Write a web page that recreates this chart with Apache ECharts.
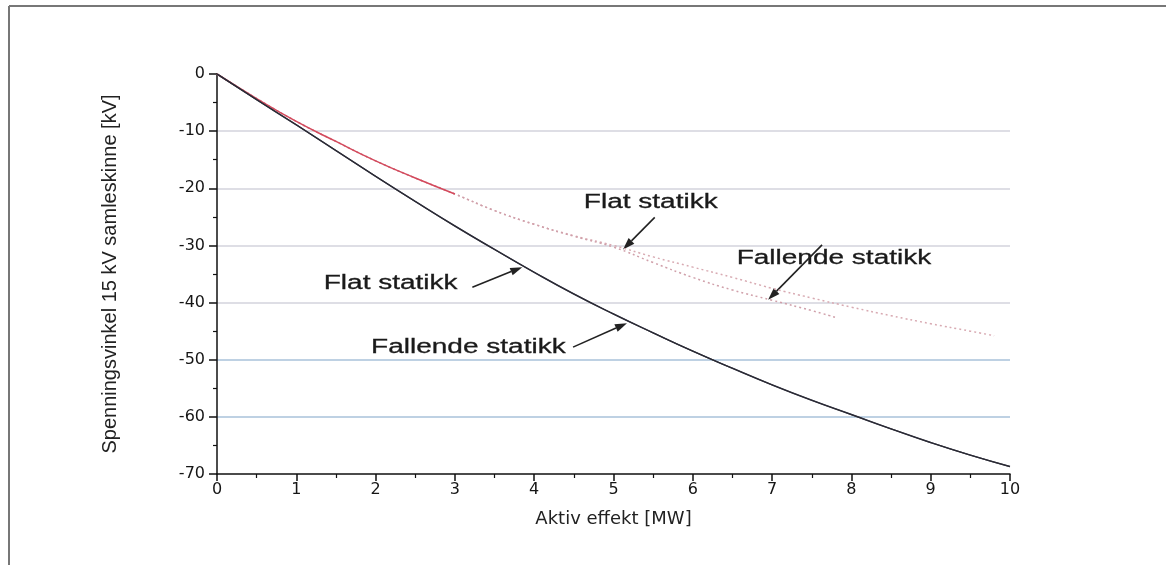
<!DOCTYPE html>
<html><head><meta charset="utf-8">
<script src="https://cdn.jsdelivr.net/npm/echarts@6/dist/echarts.min.js"></script>
<style>html,body{margin:0;padding:0;background:#fff}#c{width:1166px;height:565px}</style>
</head><body><div id="c"></div>
<script>
// ---- data ----
const xLower = [0,0.5,1,1.5,2,2.5,3,3.5,4,4.5,5,5.5,6,6.5,7,7.5,8,8.5,9,9.5,10];
const lowerFlat =      [0,-4.5,-8.9,-13.4,-17.9,-22.3,-26.6,-30.7,-34.7,-38.5,-42.0,-45.3,-48.5,-51.5,-54.4,-57.1,-59.6,-62.1,-64.5,-66.7,-68.7];
const lowerFallende =  [0,-4.5,-8.9,-13.4,-17.9,-22.3,-26.6,-30.7,-34.7,-38.5,-42.0,-45.3,-48.5,-51.5,-54.4,-57.1,-59.6,-62.1,-64.5,-66.7,-68.7];
const xUpperFlat = [0,0.5,1,1.5,2,2.5,3,3.5,4,4.5,5,5.5,6,6.5,7,7.5,8,8.5,9,9.5,9.8];
const upperFlat = [0,-4.3,-8.3,-11.8,-15.2,-18.2,-21.0,-23.9,-26.3,-28.3,-30.0,-32.0,-33.8,-35.6,-37.5,-39.2,-40.8,-42.3,-43.7,-45.0,-45.8];
const xUpperFallende = [0,0.5,1,1.5,2,2.5,3,3.5,4,4.5,5,5.5,6,6.5,7,7.5,7.8];
const upperFallende = [0,-4.3,-8.3,-11.8,-15.2,-18.2,-21.0,-23.9,-26.3,-28.4,-30.3,-33.0,-35.6,-37.8,-39.6,-41.4,-42.6];
const redVisibleUntil = 3.0; // early part of the upper curves drawn solid red

const xAxisTicks = {min: 0, max: 10, step: 1};
const yAxisTicks = {min: -70, max: 0, step: 10};
const xTitle = 'Aktiv effekt [MW]';
const yTitle = 'Spenningsvinkel 15 kV samleskinne [kV]';

// annotations (data coordinates)
const annText  = ['Flat statikk', 'Fallende statikk', 'Flat statikk', 'Fallende statikk'];
const annTextX = [5.47, 7.78, 2.19, 3.17];
const annTextY = [-22.4, -32.2, -36.6, -47.9];
const annFromX = [5.52, 7.63, 3.22, 4.49];
const annFromY = [-25.1, -29.9, -37.3, -47.8];
const annTipX  = [5.12, 6.95, 3.85, 5.17];
const annTipY  = [-30.7, -39.5, -33.8, -43.6];

// ---- chart ----
const pairs = (xs, ys) => xs.map((x, i) => [x, ys[i]]);
const redPart = pairs(xUpperFlat, upperFlat).filter(p => p[0] <= redVisibleUntil);

const gridCols = ['rgba(0,0,0,0)', '#a9c2da', '#a9c2da', '#d3d3dc', '#d3d3dc', '#d3d3dc', '#d3d3dc', 'rgba(0,0,0,0)'];

const chart = echarts.init(document.getElementById('c'), null, {renderer: 'canvas'});
const option = {
  backgroundColor: '#fff',
  animation: false,
  grid: {left: 217, right: 156, top: 74, bottom: 91, containLabel: false},
  xAxis: {
    type: 'value', min: xAxisTicks.min, max: xAxisTicks.max, interval: xAxisTicks.step,
    name: xTitle, nameLocation: 'middle', nameGap: 36,
    nameTextStyle: {fontFamily: 'DejaVu Sans', fontSize: 18, color: '#222'},
    axisLine: {onZero: false, lineStyle: {color: '#111', width: 1.5}},
    axisTick: {show: true, length: 7, lineStyle: {color: '#111', width: 1.5}},
    minorTick: {show: true, splitNumber: 2, length: 4, lineStyle: {color: '#111', width: 1.2}},
    axisLabel: {fontFamily: 'DejaVu Sans', fontSize: 16, color: '#151515', margin: 8},
    splitLine: {show: false}
  },
  yAxis: {
    type: 'value', min: yAxisTicks.min, max: yAxisTicks.max, interval: yAxisTicks.step,
    name: yTitle, nameLocation: 'middle', nameGap: 97, nameRotate: 90,
    nameTextStyle: {fontFamily: 'Liberation Sans', fontSize: 20, color: '#222'},
    axisLine: {onZero: false, lineStyle: {color: '#111', width: 1.5}},
    axisTick: {show: true, length: 8, lineStyle: {color: '#111', width: 1.5}},
    minorTick: {show: true, splitNumber: 2, length: 4, lineStyle: {color: '#111', width: 1.2}},
    axisLabel: {fontFamily: 'DejaVu Sans', fontSize: 16, color: '#151515', margin: 12},
    splitLine: {show: true, lineStyle: {color: gridCols, width: 1.5}}
  },
  series: [
    {name: 'Flat statikk (øvre)', type: 'line', data: pairs(xUpperFlat, upperFlat), showSymbol: false, smooth: true,
     lineStyle: {color: '#d8aab2', width: 1.5, type: [2, 3]}, z: 2},
    {name: 'Fallende statikk (øvre)', type: 'line', data: pairs(xUpperFallende, upperFallende), showSymbol: false, smooth: true,
     lineStyle: {color: '#d0a0aa', width: 1.5, type: [2, 3]}, z: 2},
    {name: 'rød', type: 'line', data: redPart, showSymbol: false, smooth: true,
     lineStyle: {color: '#d4495c', width: 1.5}, z: 3},
    {name: 'Flat statikk (nedre)', type: 'line', data: pairs(xLower, lowerFlat), showSymbol: false, smooth: true,
     lineStyle: {color: '#3a3a48', width: 1.5}, z: 4},
    {name: 'Fallende statikk (nedre)', type: 'line', data: pairs(xLower, lowerFallende), showSymbol: false, smooth: true,
     lineStyle: {color: '#2a2a34', width: 1.2}, z: 5}
  ]
};
chart.setOption(option);

// annotations: text + arrows located through the chart's own scales
const g = [
  {type: 'line', shape: {x1: 9, y1: 6, x2: 1166, y2: 6}, style: {stroke: '#777', lineWidth: 2}, silent: true},
  {type: 'line', shape: {x1: 9, y1: 6, x2: 9, y2: 565}, style: {stroke: '#777', lineWidth: 2}, silent: true}
];
annText.forEach((t, i) => {
  const tp = chart.convertToPixel({gridIndex: 0}, [annTextX[i], annTextY[i]]);
  const fp = chart.convertToPixel({gridIndex: 0}, [annFromX[i], annFromY[i]]);
  const hp = chart.convertToPixel({gridIndex: 0}, [annTipX[i], annTipY[i]]);
  g.push({type: 'text', x: tp[0], y: tp[1], scaleX: 1.4, silent: true,
          style: {text: t, fill: '#1a1a1a', font: '20px "Liberation Sans", Arial, sans-serif', align: 'center', verticalAlign: 'middle',
                  stroke: '#1a1a1a', lineWidth: 0.3}});
  const dx = hp[0] - fp[0], dy = hp[1] - fp[1];
  const L = Math.sqrt(dx * dx + dy * dy), ux = dx / L, uy = dy / L;
  const hl = 12, hw = 4;
  const bx = hp[0] - ux * hl, by = hp[1] - uy * hl;
  g.push({type: 'line', shape: {x1: fp[0], y1: fp[1], x2: bx, y2: by}, style: {stroke: '#222', lineWidth: 1.6}, silent: true});
  g.push({type: 'polygon', shape: {points: [[hp[0], hp[1]], [bx - uy * hw, by + ux * hw], [bx + uy * hw, by - ux * hw]]},
          style: {fill: '#222'}, silent: true});
});
chart.setOption({graphic: g});
</script>
</body></html>
